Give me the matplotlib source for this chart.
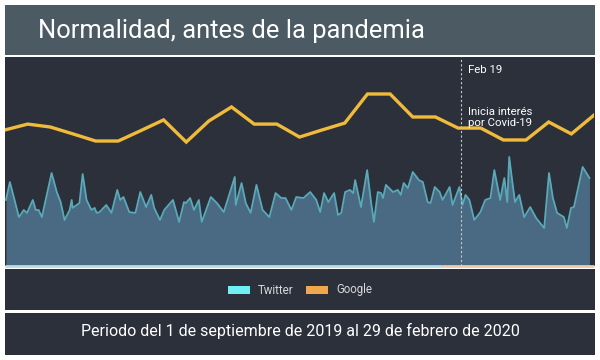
import matplotlib.pyplot as plt
from matplotlib.patches import Rectangle

# ---------------------------------------------------------------------
# Data (days since 1 Sep 2019, index values)
# ---------------------------------------------------------------------

google_day = [0, 7, 14, 21, 28, 35, 42, 49, 56, 63, 70, 77, 84, 91, 98,
              105, 112, 119, 126, 133, 140, 147, 154, 161, 168, 175, 182]
google_val = [65.1, 67.9, 66.5, 63.2, 59.8, 59.8, 64.8, 69.9, 59.3, 69.4,
              76.1, 67.9, 67.9, 61.7, 65.1, 68.4, 82.3, 82.3, 71.3, 71.3,
              66.0, 66.0, 60.3, 60.3, 68.9, 63.2, 72.2]

twitter_day = [0.3, 1.5, 2.8, 4.3, 5.8, 6.8, 8.6, 9.5, 10.4, 11.4, 14.4, 16.0,
               17.2, 18.4, 20.0, 20.6, 20.9, 23.0, 24.0, 25.2, 26.7, 27.7,
               28.3, 29.2, 31.3, 32.9, 34.7, 35.6, 36.6, 38.4, 40.3, 41.8,
               43.6, 45.2, 46.1, 47.9, 49.2, 51.9, 53.8, 55.3, 55.9, 57.2,
               58.4, 59.9, 60.8, 63.6, 65.5, 67.6, 71.0, 71.3, 73.1, 74.4,
               75.9, 77.7, 79.6, 81.7, 83.6, 85.4, 86.7, 88.5, 90.0, 92.2,
               94.3, 96.2, 97.4, 98.6, 99.9, 101.7, 102.9, 103.9, 105.1,
               106.6, 107.6, 108.2, 110.0, 111.9, 113.1, 114.0, 115.2, 116.2,
               116.8, 117.7, 119.9, 121.4, 122.3, 123.2, 124.5, 126.0, 127.9,
               129.1, 130.6, 131.5, 132.8, 134.3, 135.2, 137.4, 138.3, 140.4,
               141.4, 142.3, 143.5, 145.0, 146.9, 148.4, 150.0, 151.2, 152.1,
               153.0, 154.3, 155.2, 155.8, 156.7, 157.6, 158.9, 160.4, 162.3,
               164.1, 166.6, 168.1, 169.3, 170.6, 172.7, 173.6, 174.9, 175.8,
               178.5, 180.6]
twitter_val = [31.6, 40.2, 32.5, 23.4, 26.8, 25.4, 31.6, 26.8, 26.8, 23.4,
               44.5, 35.4, 30.6, 22.0, 26.8, 31.6, 27.8, 30.1, 44.0, 31.6,
               26.8, 27.8, 25.4, 25.8, 29.2, 25.4, 36.4, 31.6, 33.0, 25.8,
               25.4, 35.4, 28.2, 34.0, 27.8, 22.0, 26.8, 31.6, 21.1, 30.6,
               30.1, 32.5, 26.8, 31.6, 21.1, 33.0, 30.1, 25.8, 42.6, 29.2,
               39.7, 30.1, 25.4, 38.8, 26.8, 23.4, 34.9, 32.5, 32.5, 26.8,
               33.0, 32.5, 35.4, 31.6, 25.8, 34.9, 30.6, 34.9, 24.4, 25.4,
               35.4, 36.4, 34.9, 41.1, 28.2, 45.9, 30.6, 21.1, 35.4, 34.9,
               32.5, 38.8, 35.4, 36.4, 34.0, 39.7, 37.3, 45.0, 41.1, 40.2,
               30.6, 30.1, 37.8, 35.4, 31.6, 37.8, 29.2, 37.8, 29.2, 34.0,
               31.6, 22.0, 25.8, 31.6, 32.5, 45.9, 38.8, 31.6, 42.1, 30.6,
               52.2, 41.1, 30.6, 34.0, 23.4, 28.2, 23.0, 18.2, 44.5, 32.5,
               25.4, 23.4, 18.2, 27.8, 28.2, 47.4, 42.1]

event_day = 141
split_day = 135

# ---------------------------------------------------------------------
# Figure with panels
# ---------------------------------------------------------------------

plt.rcParams["font.family"] = ["Roboto", "DejaVu Sans"]

W, H = 600, 360
fig = plt.figure(figsize=(6, 3.6), dpi=100)
fig.patch.set_facecolor("white")

dark = "#2b303b"


def panel(x0, y0, x1, y1, color):
    # pixel coordinates measured from the top-left corner
    fig.patches.append(Rectangle((x0 / W, 1 - y1 / H), (x1 - x0) / W,
                                 (y1 - y0) / H, transform=fig.transFigure,
                                 facecolor=color, edgecolor="none", zorder=0))


panel(5, 5, 595, 55, "#4b5a63")
panel(5, 57, 595, 266, dark)
panel(5, 269, 595, 310, dark)
panel(5, 313, 595, 355, dark)

fig.text(38 / W, 1 - 31 / H, "Normalidad, antes de la pandemia",
         color="white", fontsize=18.4, va="center", ha="left")

ax = fig.add_axes([5 / W, 1 - 266 / H, 589 / W, 209 / H])
ax.set_zorder(3)
ax.set_xlim(0, 182)
ax.set_ylim(0, 100)
ax.axis("off")

ax.fill_between(twitter_day, twitter_val, 0, color="#496a82", lw=0)
ax.plot(twitter_day, twitter_val, color="#5aa9b8", lw=1.3)
ax.plot(google_day, google_val, color="#f0bb3a", lw=2.4,
        solid_joinstyle="miter")

ax.axvline(event_day, color="#c8c8c8", lw=0.8, ls=(0, (2, 2)))
ax.text(event_day + 2.2, 94, "Feb 19", color="white", fontsize=8.2,
        va="center")
ax.text(event_day + 2.2, 71, "Inicia interés\npor Covid-19", color="white",
        fontsize=8.2, va="center", linespacing=1.05)

ax.plot([0, split_day], [0, 0], color="#b9dbe6", lw=2, clip_on=False,
        solid_capstyle="butt")
ax.plot([split_day, 182], [0, 0], color="#f2c8a8", lw=2, clip_on=False,
        solid_capstyle="butt")

# legend
ly = 1 - 290 / H
fig.patches.append(Rectangle((228 / W, ly - 4 / H), 22 / W, 8 / H,
                             transform=fig.transFigure, facecolor="#6ff0f5",
                             edgecolor="none"))
fig.text(258 / W, ly, "Twitter", color="#d8d8d8", fontsize=8.3, va="center")
fig.patches.append(Rectangle((306 / W, ly - 4 / H), 22 / W, 8 / H,
                             transform=fig.transFigure, facecolor="#f0a84c",
                             edgecolor="none"))
fig.text(336 / W, ly, "Google", color="#d8d8d8", fontsize=8.3, va="center")

fig.text(0.5, 1 - 331 / H,
         "Periodo del 1 de septiembre de 2019 al 29 de febrero de 2020",
         color="white", fontsize=11.5, ha="center", va="center")

fig.savefig("out.png", dpi=100, facecolor=fig.get_facecolor())
